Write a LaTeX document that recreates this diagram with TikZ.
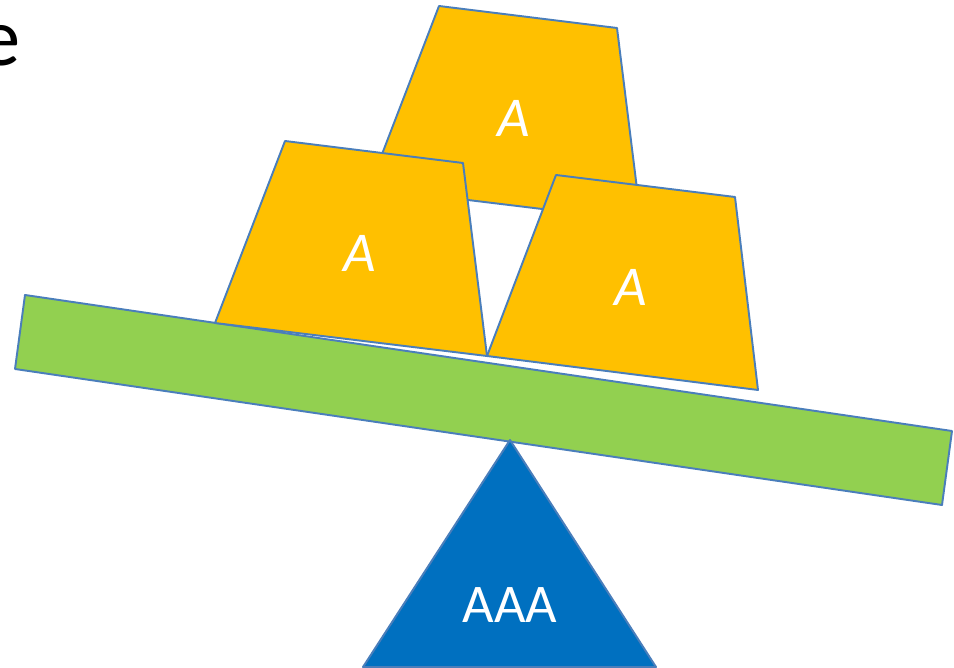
\documentclass[tikz,border=0pt]{standalone}
\usepackage{fontspec}
\setmainfont{Carlito}
\usepackage{tikz}
\usetikzlibrary{calc}

\definecolor{gold}{RGB}{255,192,0}
\definecolor{lever}{RGB}{146,208,80}
\definecolor{pivot}{RGB}{0,112,192}
\definecolor{rim}{RGB}{74,126,187}

\begin{document}
\begin{tikzpicture}[x=0.02cm, y=-0.02cm,
    part/.style={draw=rim, line width=1.1pt, line join=round},
    weight/.style={text=white, font=\fontsize{32}{36}\selectfont\itshape},
    base/.style={text=white, font=\fontsize{31}{36}\selectfont}]
    \useasboundingbox (0, 0) rectangle (954, 668);

    % cut-off word at the top left
    \node[anchor=base east, inner sep=0pt, font=\fontsize{47}{50}\selectfont] (word) at (21, 66) {e};

    % the beam
    \draw[part, fill=lever] (25, 295) -- (952, 431) -- (942, 505) -- (15, 369) -- cycle;

    % the pivot
    \draw[part, fill=pivot] (510, 440) -- (656, 667) -- (363, 667) -- cycle;
    \node[base] (pivotlabel) at (510, 605) {AAA};

    % the three weights
    \draw[part, fill=gold] (439, 6) -- (617, 28) -- (641, 221) -- (369, 188) -- cycle;
    \node[weight] (topweight) at (514, 118) {A};

    \draw[part, fill=gold] (285, 141) -- (463, 163) -- (487, 356) -- (215, 323) -- cycle;
    \node[weight] (leftweight) at (360, 253) {A};

    \draw[part, fill=gold] (556, 175) -- (735, 197) -- (758, 390) -- (487, 356) -- cycle;
    \node[weight] (rightweight) at (631, 287) {A};
\end{tikzpicture}
\end{document}
